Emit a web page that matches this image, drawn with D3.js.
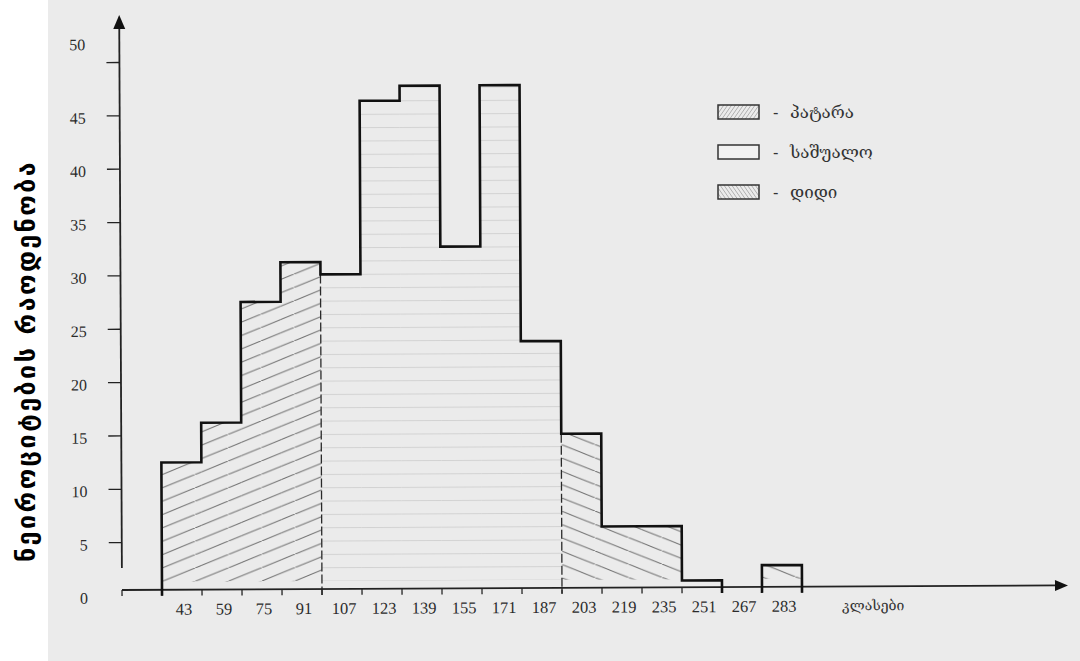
<!DOCTYPE html>
<html><head><meta charset="utf-8">
<script src="https://cdn.jsdelivr.net/npm/d3@7"></script>
<style>html,body{margin:0;padding:0;background:#fff;} svg{display:block;}</style>
</head><body>
<script>
// ---- data ----
const binStarts = [35,51,67,83,99,115,131,147,163,179,195,211,227,243,259,275];
const binWidth = 16;
const counts = [12.5,16.2,27.5,31.2,30.05,46.3,47.7,32.6,47.7,23.7,15.0,6.3,6.3,1.2,0,2.6];
const groups = ["small","small","small","small","medium","medium","medium","medium","medium","medium","large","large","large","large","large","large"];
const xTickLabels = [43,59,75,91,107,123,139,155,171,187,203,219,235,251,267,283];
const yTickValues = [0,5,10,15,20,25,30,35,40,45,50];
const legendKeys = ["small","medium","large"];
const legendLabels = ["პატარა","საშუალო","დიდი"];
const xTitle = "კლასები";
const yTitle = "ნეიროციტების რაოდენობა";

// ---- layout ----
const W = 1080, H = 661;
const svg = d3.select("body").append("svg").attr("width", W).attr("height", H);
svg.append("rect").attr("width", W).attr("height", H).attr("fill", "#ebebeb");
svg.append("rect").attr("width", 48).attr("height", H).attr("fill", "#ffffff");

const x = d3.scaleLinear().domain([19, 291]).range([122, 802]);
const y = d3.scaleLinear().domain([0, 50]).range([596, 62.5]);
const axisY = y(0) - 6;
const hatchBottom = axisY - 8;

const defs = svg.append("defs");
// hatch patterns for the three groups
const pSmall = defs.append("pattern").attr("id", "hatch-small").attr("patternUnits", "userSpaceOnUse")
  .attr("x", x(35)).attr("y", 475).attr("width", 33.33).attr("height", 13.33);
pSmall.append("path").attr("d", "M-2,14.13 L35.33,-0.8").attr("stroke", "#6e6e6e").attr("stroke-width", 1.1);
const pMed = defs.append("pattern").attr("id", "hatch-medium").attr("patternUnits", "userSpaceOnUse")
  .attr("x", 0).attr("y", 288.3).attr("width", 20).attr("height", 13.33);
pMed.append("path").attr("d", "M0,0.5 H20").attr("stroke", "#d2d2d2").attr("stroke-width", 1);
const pLarge = defs.append("pattern").attr("id", "hatch-large").attr("patternUnits", "userSpaceOnUse")
  .attr("x", x(195)).attr("y", 446.7).attr("width", 33.33).attr("height", 13.33);
pLarge.append("path").attr("d", "M-2,-0.8 L35.33,14.13").attr("stroke", "#6e6e6e").attr("stroke-width", 1.1);

// legend patterns (dense)
const lp1 = defs.append("pattern").attr("id", "leg-small").attr("patternUnits", "userSpaceOnUse")
  .attr("width", 3.2).attr("height", 3.2).attr("patternTransform", "rotate(35)");
lp1.append("line").attr("x1", 0).attr("y1", 0).attr("x2", 0).attr("y2", 3.2).attr("stroke", "#8a8a8a").attr("stroke-width", 1);
const lp3 = defs.append("pattern").attr("id", "leg-large").attr("patternUnits", "userSpaceOnUse")
  .attr("width", 3.2).attr("height", 3.2).attr("patternTransform", "rotate(-35)");
lp3.append("line").attr("x1", 0).attr("y1", 0).attr("x2", 0).attr("y2", 3.2).attr("stroke", "#8a8a8a").attr("stroke-width", 1);
const legendFill = {small: "url(#leg-small)", medium: "#f1f1f1", large: "url(#leg-large)"};

// chart group (scan is very slightly rotated)
const g = svg.append("g").attr("transform", `rotate(-0.28, ${x(19)}, ${axisY})`);

const bins = binStarts.map((s, i) => ({s, e: s + binWidth, v: counts[i], grp: groups[i]}));

// hatch fills
g.selectAll("rect.hatch").data(bins.filter(d => y(d.v) < hatchBottom)).join("rect")
  .attr("class", "hatch")
  .attr("x", d => x(d.s)).attr("width", d => x(d.e) - x(d.s))
  .attr("y", d => y(d.v)).attr("height", d => hatchBottom - y(d.v))
  .attr("fill", d => `url(#hatch-${d.grp})`);

// dashed group dividers
const dividers = bins.filter((d, i) => i > 0 && d.grp !== bins[i - 1].grp)
  .map(d => ({at: d.s, top: Math.min(d.v, bins[bins.indexOf(d) - 1].v)}));
g.selectAll("line.div").data(dividers).join("line")
  .attr("x1", d => x(d.at)).attr("x2", d => x(d.at))
  .attr("y1", d => y(d.top)).attr("y2", y(0))
  .attr("stroke", "#2a2a2a").attr("stroke-width", 1.3).attr("stroke-dasharray", "9,3");

// x axis
g.append("line").attr("x1", x(19)).attr("x2", 1058).attr("y1", axisY).attr("y2", axisY)
  .attr("stroke", "#222").attr("stroke-width", 1.8);
g.append("path").attr("d", `M1068,${axisY} L1055,${axisY - 5.5} L1055,${axisY + 5.5} Z`).attr("fill", "#111");
const xEdges = d3.range(19, 292, 16);
g.selectAll("line.xt").data(xEdges).join("line")
  .attr("x1", d => x(d)).attr("x2", d => x(d)).attr("y1", axisY).attr("y2", axisY + 6)
  .attr("stroke", "#222").attr("stroke-width", 1.3);
g.selectAll("text.xl").data(xTickLabels).join("text")
  .attr("x", d => x(d) + 2).attr("y", axisY + 25)
  .attr("text-anchor", "middle")
  .attr("font-family", "Liberation Serif, serif").attr("font-size", 16.5).attr("fill", "#2b2b2b")
  .text(d => d);
g.append("text").attr("x", 842).attr("y", axisY + 24)
  .attr("font-family", "DejaVu Serif, DejaVu Sans, serif").attr("font-size", 14).attr("fill", "#333")
  .text(xTitle);

// y axis
g.append("line").attr("x1", x(19)).attr("x2", x(19)).attr("y1", 27).attr("y2", axisY - 22)
  .attr("stroke", "#222").attr("stroke-width", 1.8);
g.append("path").attr("d", `M${x(19)},15 L${x(19) - 6},29 L${x(19) + 6},29 Z`).attr("fill", "#111");
g.selectAll("line.yt").data(yTickValues.filter(v => v > 0)).join("line")
  .attr("x1", x(19) - 13).attr("x2", x(19)).attr("y1", d => y(d)).attr("y2", d => y(d))
  .attr("stroke", "#222").attr("stroke-width", 1.3);
const yMax = d3.max(yTickValues);
g.selectAll("text.yl").data(yTickValues).join("text")
  .attr("x", 88).attr("y", d => y(d) + (d === yMax ? -18 : 2)).attr("dy", "0.35em")
  .attr("text-anchor", "end")
  .attr("font-family", "Liberation Serif, serif").attr("font-size", 16).attr("fill", "#2b2b2b")
  .text(d => d);

// histogram outline
const path = d3.path();
let inRun = false;
bins.forEach((d, i) => {
  if (d.v > 0) {
    if (!inRun) { path.moveTo(x(d.s), y(0)); inRun = true; }
    path.lineTo(x(d.s), y(d.v));
    path.lineTo(x(d.e), y(d.v));
  } else if (inRun) {
    path.lineTo(x(d.s), y(0)); inRun = false;
  }
});
if (inRun) path.lineTo(x(bins[bins.length - 1].e), y(0));
g.append("path").attr("d", path.toString()).attr("fill", "none")
  .attr("stroke", "#111").attr("stroke-width", 2.6).attr("stroke-linejoin", "miter");

// legend
const leg = svg.append("g");
legendKeys.forEach((k, i) => {
  const ly = 105 + i * 40;
  leg.append("rect").attr("x", 718).attr("y", ly).attr("width", 41).attr("height", 14)
    .attr("fill", legendFill[k]).attr("stroke", "#333").attr("stroke-width", 1.5);
  leg.append("text").attr("x", 773).attr("y", ly + 13).attr("font-family", "DejaVu Serif, serif")
    .attr("font-size", 16).attr("fill", "#333").text("-");
  leg.append("text").attr("x", 790).attr("y", ly + 13).attr("font-family", "DejaVu Serif, DejaVu Sans, serif")
    .attr("font-size", 17).attr("fill", "#333").text(legendLabels[i]);
});

// y title
svg.append("text").attr("transform", "translate(35,361) rotate(-90)")
  .attr("text-anchor", "middle").attr("font-family", "DejaVu Sans, sans-serif")
  .attr("font-weight", "bold").attr("font-size", 25).attr("letter-spacing", 2.5).attr("fill", "#000")
  .text(yTitle);
</script>
</body></html>
